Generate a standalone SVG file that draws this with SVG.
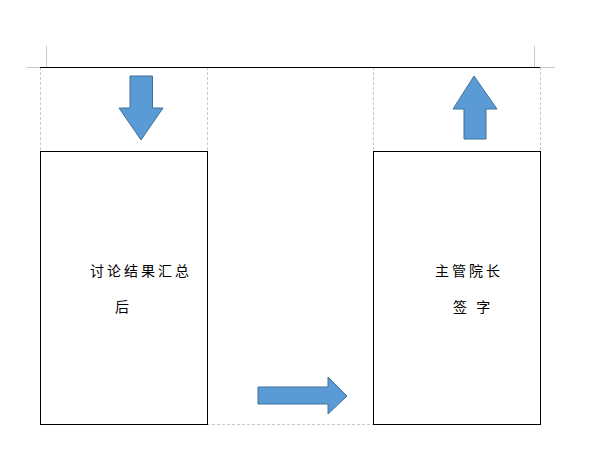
<svg xmlns="http://www.w3.org/2000/svg" width="593" height="474" viewBox="0 0 593 474">
<style>
.guide{stroke:#c8c8c8;stroke-width:1;fill:none}
.dash{stroke:#c8c8c8;stroke-width:1;stroke-dasharray:3,2;fill:none}
.box{fill:#fff;stroke:#000;stroke-width:1}
.arrow{fill:#5b9bd5;stroke:#41719c;stroke-width:1}
.t{font-family:"Noto Sans CJK SC","Noto Sans CJK JP",sans-serif;font-size:14px;fill:#000;letter-spacing:3px}
</style>
<rect width="593" height="474" fill="#fff"/>
<g id="page-marks">
<path class="guide" d="M46.5,46V67.5H26M534.5,46V67.5H555"/>
<path class="dash" d="M40.5,67V151M207.5,67V151M373.5,67V151M540.5,67V151M207,424.5H373"/>
<line x1="40" y1="67.5" x2="540" y2="67.5" stroke="#000" stroke-width="1"/>
</g>
<g id="node-left">
<rect class="box" x="40.5" y="151.5" width="167" height="273"/>
<text class="t" x="90" y="276">讨论结果汇总</text>
<text class="t" x="115" y="312">后</text>
</g>
<g id="node-right">
<rect class="box" x="373.5" y="151.5" width="167" height="273"/>
<text class="t" x="435" y="276">主管院长</text>
<text class="t" x="453" y="312">签 字</text>
</g>
<g id="connectors">
<polygon class="arrow" points="130,76 152.5,76 152.5,108 163,108 141,140 119,108 130,108"/>
<polygon class="arrow" points="474,76 497,109 486,109 486,139 464,139 464,109 453,109"/>
<polygon class="arrow" points="258,387 328,387 328,377 347,396 328,414 328,404 258,404"/>
</g>
</svg>
